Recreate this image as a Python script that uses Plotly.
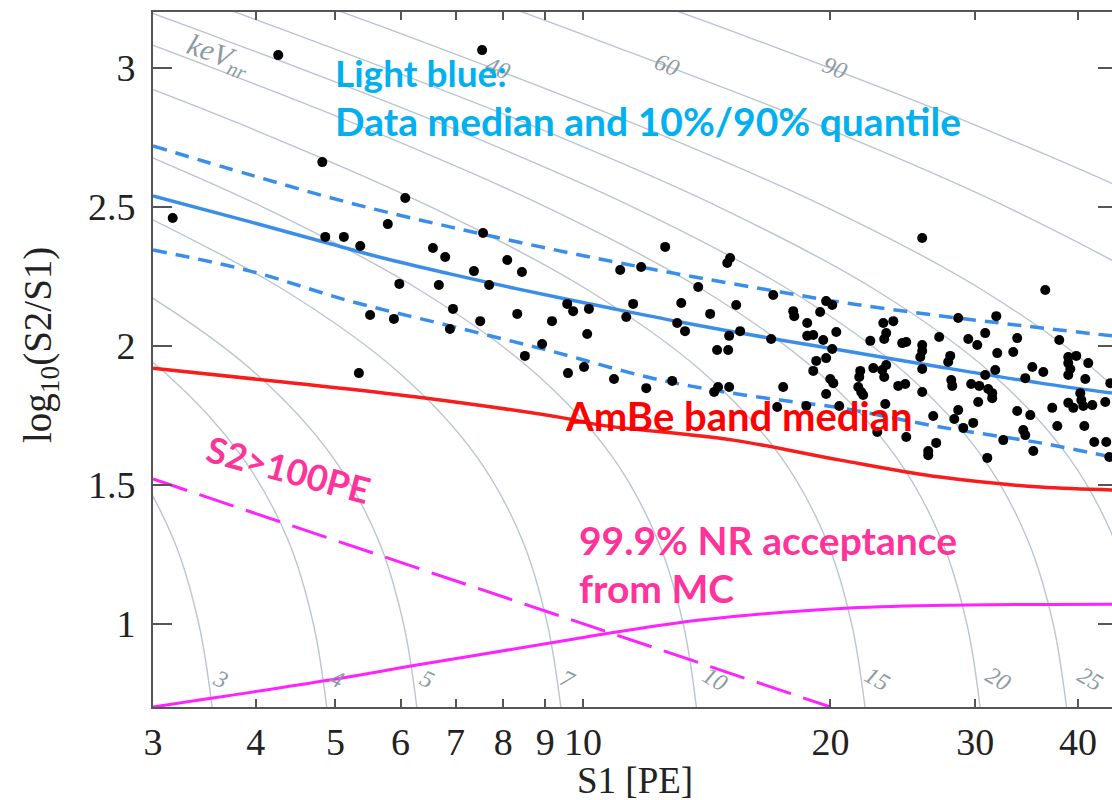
import math
import plotly.graph_objects as go

# ---- event scatter: S1 [PE] and log10(S2/S1) ----
event_s1 = [4.26, 7.54, 4.82, 6.08, 3.17, 5.79, 4.86, 5.12, 5.36, 7.56,
            6.57, 6.80, 8.09, 8.43, 7.37, 7.69, 5.98, 6.68, 9.57, 9.73,
            10.17, 6.95, 8.32, 7.50, 9.17, 5.51, 5.89, 6.89, 10.12, 8.92,
            8.50, 5.34, 12.59, 11.10, 11.77, 14.98, 15.10, 13.81, 17.04, 25.86,
            36.50, 11.51, 13.17, 15.36, 14.28, 11.29, 13.02, 13.31, 15.53, 15.06,
            16.94, 18.02, 18.07, 18.74, 19.43, 19.76, 20.10, 18.74, 19.06, 19.60,
            20.33, 23.19, 23.85, 23.38, 23.25, 22.36, 28.60, 31.82, 27.12, 29.42,
            30.85, 33.74, 37.96, 9.59, 10.03, 10.91, 11.94, 14.56, 15.02, 12.84,
            14.44, 14.60, 15.06, 17.23, 17.52, 20.10, 19.76, 19.22, 19.06, 19.99,
            20.16, 19.76, 20.50, 18.69, 24.45, 24.73, 25.86, 25.86, 25.72, 25.86,
            23.38, 23.12, 23.25, 22.55, 21.74, 21.68, 24.18, 24.66, 21.62, 21.80,
            21.92, 25.86, 23.32, 22.80, 24.73, 26.67, 26.89, 26.30, 26.30, 27.97,
            27.81, 28.05, 28.13, 28.60, 28.29, 29.01, 29.83, 30.25, 29.66, 30.34,
            30.85, 31.73, 31.91, 33.37, 30.17, 31.11, 31.46, 31.46, 33.74, 35.00,
            34.32, 34.51, 35.30, 32.45, 31.03, 34.51, 35.20, 36.30, 38.93, 38.93,
            39.15, 38.93, 39.81, 41.17, 40.83, 40.26, 40.38, 38.93, 39.48, 40.60,
            41.64, 43.18, 37.22, 37.75, 40.72, 41.87, 43.30, 43.67, 43.79]
event_logratio = [3.045, 3.063, 2.660, 2.531, 2.459, 2.437, 2.391, 2.391, 2.358, 2.405,
                  2.351, 2.319, 2.308, 2.265, 2.268, 2.218, 2.222, 2.218, 2.150, 2.124,
                  2.132, 2.132, 2.114, 2.088, 2.088, 2.110, 2.096, 2.060, 2.042, 2.006,
                  1.963, 1.901, 2.355, 2.272, 2.283, 2.297, 2.315, 2.211, 2.182, 2.387,
                  2.200, 2.150, 2.153, 2.146, 2.114, 2.103, 2.081, 2.052, 2.052, 2.035,
                  2.024, 2.124, 2.106, 2.081, 2.121, 2.160, 2.146, 2.035, 2.038, 2.020,
                  2.049, 2.081, 2.088, 2.045, 2.024, 2.017, 2.099, 2.106, 2.031, 2.024,
                  2.045, 2.027, 2.020, 1.901, 1.923, 1.880, 1.847, 1.984, 1.984, 1.873,
                  1.833, 1.851, 1.851, 1.779, 1.851, 1.988, 1.955, 1.945, 1.909, 1.880,
                  1.865, 1.826, 1.783, 1.783, 2.009, 2.013, 2.002, 1.981, 1.959, 1.916,
                  1.930, 1.912, 1.887, 1.919, 1.909, 1.887, 1.855, 1.862, 1.851, 1.833,
                  1.822, 1.833, 1.790, 1.689, 1.671, 1.747, 1.650, 1.621, 1.606, 1.963,
                  1.941, 1.876, 1.855, 1.768, 1.736, 1.704, 1.722, 1.797, 1.862, 1.855,
                  1.894, 1.912, 1.973, 1.977, 2.002, 1.844, 1.829, 1.811, 1.765, 1.750,
                  1.696, 1.678, 1.621, 1.660, 1.596, 1.883, 1.923, 1.905, 1.959, 1.937,
                  1.916, 1.894, 1.963, 1.937, 1.880, 1.829, 1.804, 1.794, 1.776, 1.783,
                  1.786, 1.797, 1.776, 1.711, 1.711, 1.653, 1.653, 1.599, 1.865]

# ---- data median and 10% / 90% quantiles ----
median_s1 = [3.00, 3.94, 4.89, 5.71, 6.89, 8.32, 10.79, 13.13, 17.38, 20.56, 27.2, 36.0, 44.0]
median_val = [2.538, 2.445, 2.369, 2.315, 2.258, 2.204, 2.135, 2.085, 2.020, 1.984, 1.923, 1.865, 1.829]

q90_s1 = [3.00, 3.94, 5.21, 6.89, 9.12, 11.10, 13.89, 17.38, 20.2, 26.7, 32.2, 37.0, 44.0]
q90_val = [2.718, 2.614, 2.513, 2.427, 2.348, 2.297, 2.243, 2.193, 2.160, 2.110, 2.081, 2.060, 2.035]

q10_s1 = [3.00, 3.94, 5.21, 6.89, 9.12, 11.97, 14.40, 17.38, 20.56, 27.2, 36.0, 44.0]
q10_val = [2.344, 2.268, 2.160, 2.071, 1.981, 1.887, 1.840, 1.804, 1.776, 1.707, 1.650, 1.599]

# ---- AmBe band median ----
ambe_s1 = [3.00, 4.32, 6.28, 9.46, 10.5, 15.23, 20.56, 27.2, 36.0, 44.0]
ambe_val = [1.919, 1.869, 1.815, 1.740, 1.714, 1.660, 1.588, 1.527, 1.491, 1.481]

# ---- S2 > 100 PE threshold ----
s2cut_s1 = [3.0, 20.0]
s2cut_val = [1.52, 0.70]

# ---- 99.9% NR acceptance from MC ----
nracc_s1 = [3.00, 4.92, 6.28, 9.12, 10.79, 13.89, 21.1, 29.3, 44.0]
nracc_val = [0.700, 0.797, 0.851, 0.930, 0.966, 1.013, 1.056, 1.067, 1.070]

# ---- constant-energy contours (keVnr) ----
contour_y = [0.7, 1.0, 1.3, 1.6, 1.9, 2.2, 2.5, 2.8, 3.1, 3.25]
contours = {
    3:  [3.54, 3.41, 3.18, 2.80, 2.26],
    4:  [4.88, 4.70, 4.38, 3.85, 3.11, 2.24],
    5:  [6.28, 6.05, 5.64, 4.96, 4.00, 2.89, 1.86],
    7:  [9.40, 9.05, 8.44, 7.43, 5.99, 4.33, 2.78],
    10: [13.74, 13.24, 12.33, 10.86, 8.76, 6.33, 4.07, 2.38],
    15: [22.03, 21.22, 19.78, 17.41, 14.05, 10.14, 6.52, 3.81, 2.08],
    20: [30.41, 29.30, 27.30, 24.03, 19.39, 14.00, 9.00, 5.26, 2.88],
    25: [38.73, 37.31, 34.76, 30.60, 24.70, 17.83, 11.47, 6.70, 3.66, 2.66],
    30: [49.3, 47.5, 44.3, 38.96, 31.4, 22.7, 14.6, 8.53, 4.66, 3.39],
    40: [None, None, 59.7, 52.6, 42.4, 30.6, 19.7, 11.5, 6.29, 4.57],
    60: [None, None, None, None, 70.4, 50.8, 32.7, 19.1, 10.4, 7.59],
    90: [None, None, None, None, None, 78.7, 50.6, 29.6, 16.2, 11.76],
}

# contour labels: text, S1, log10(S2/S1), rotation
contour_labels = [
    ("3", 3.62, 0.80, 25), ("4", 5.02, 0.80, 25), ("5", 6.46, 0.80, 25),
    ("7", 9.57, 0.80, 25), ("10", 14.48, 0.80, 30), ("15", 22.8, 0.80, 30),
    ("20", 32.0, 0.80, 30), ("25", 41.4, 0.80, 30),
    ("40", 7.88, 3.00, 22), ("60", 12.66, 3.01, 22), ("90", 20.27, 3.00, 22),
    ("keV<sub>nr</sub>", 3.60, 3.04, 20),
]

x_ticks = [3, 4, 5, 6, 7, 8, 9, 10, 20, 30, 40]
y_ticks = [1, 1.5, 2, 2.5, 3]

CONTOUR_COLOR = "#b9c6cf"
BLUE = "#3a8eea"
RED = "#f81c1c"
MAGENTA = "#ff22ff"

fig = go.Figure()

for energy, s1_vals in contours.items():
    xs, ys = [], []
    for s, yv in zip(s1_vals, contour_y):
        if s is not None:
            xs.append(s)
            ys.append(yv)
    fig.add_trace(go.Scatter(x=xs, y=ys, mode="lines", line_shape="spline",
                             line=dict(color=CONTOUR_COLOR, width=1.4),
                             hoverinfo="skip", showlegend=False))

fig.add_trace(go.Scatter(x=s2cut_s1, y=s2cut_val, mode="lines",
                         line=dict(color=MAGENTA, width=3, dash="36px,13px"),
                         showlegend=False))
fig.add_trace(go.Scatter(x=nracc_s1, y=nracc_val, mode="lines", line_shape="spline",
                         line=dict(color=MAGENTA, width=3), showlegend=False))
# the AmBe median sits on the right-hand y axis (same range) so its ticks are drawn
fig.add_trace(go.Scatter(x=ambe_s1, y=ambe_val, mode="lines", line_shape="spline",
                         yaxis="y2", line=dict(color=RED, width=3.5), showlegend=False))
fig.add_trace(go.Scatter(x=q90_s1, y=q90_val, mode="lines", line_shape="spline",
                         line=dict(color=BLUE, width=3.5, dash="14px,9px"), showlegend=False))
fig.add_trace(go.Scatter(x=q10_s1, y=q10_val, mode="lines", line_shape="spline",
                         line=dict(color=BLUE, width=3.5, dash="14px,9px"), showlegend=False))
fig.add_trace(go.Scatter(x=median_s1, y=median_val, mode="lines", line_shape="spline",
                         line=dict(color=BLUE, width=3.5), showlegend=False))
fig.add_trace(go.Scatter(x=event_s1, y=event_logratio, mode="markers",
                         marker=dict(color="black", size=10, line=dict(width=0)),
                         cliponaxis=True, showlegend=False))

annotations = []
for text, s1, yv, ang in contour_labels:
    annotations.append(dict(x=math.log10(s1), y=yv, xref="x", yref="y", text=text,
                            showarrow=False, textangle=ang,
                            font=dict(family="Liberation Serif", size=30 if "keV" in text else 24,
                                      color="#8c9aa4", style="italic"),
                            xanchor="center", yanchor="middle"))

# plot-area helpers (paper coordinates)
L, R, T, B = 153, 1112, 12, 707
def px(xp):
    return (xp - L) / (R - L)
def py(yp):
    return (B - yp) / (B - T)

sans = "Lato"
annotations += [
    dict(x=px(333), y=py(72), text="<b>Light blue:</b>", font=dict(family=sans, size=37, color="#00b0f0")),
    dict(x=px(333), y=py(121), text="<b>Data median and 10%/90% quantile</b>",
         font=dict(family=sans, size=39, color="#00b0f0")),
    dict(x=px(563), y=py(416), text="<b>AmBe band median</b>", font=dict(family=sans, size=40, color="#ff0000")),
    dict(x=px(577), y=py(540), text="<b>99.9% NR acceptance</b>", font=dict(family=sans, size=39, color="#ff3399")),
    dict(x=px(577), y=py(588), text="<b>from MC</b>", font=dict(family=sans, size=39, color="#ff3399")),
]
for a in annotations[-5:]:
    a.update(xref="paper", yref="paper", xanchor="left", yanchor="middle", showarrow=False)

annotations.append(dict(x=px(288), y=py(469), xref="paper", yref="paper", text="<b>S2>100PE</b>",
                        textangle=15, showarrow=False, xanchor="center", yanchor="middle",
                        font=dict(family=sans, size=36, color="#ff3399")))
annotations.append(dict(x=px(40), y=py(345), xref="paper", yref="paper",
                        text="log<sub>10</sub>(S2/S1)", textangle=-90, showarrow=False,
                        xanchor="center", yanchor="middle",
                        font=dict(family="Liberation Serif", size=39, color="#222")))
annotations.append(dict(x=px(635), y=py(780), xref="paper", yref="paper",
                        text="S1 [PE]", showarrow=False, xanchor="center", yanchor="middle",
                        font=dict(family="Liberation Serif", size=37, color="#222")))

axis_font = dict(family="Liberation Serif", size=38, color="#222")
fig.update_layout(
    width=1112, height=800,
    margin=dict(l=L, r=1112 - R, t=T, b=800 - B),
    paper_bgcolor="white", plot_bgcolor="white",
    showlegend=False,
    annotations=annotations,
    xaxis=dict(type="log", range=[math.log10(3), math.log10(44.0)],
               tickvals=x_ticks, ticktext=[str(v) for v in x_ticks],
               ticks="inside", ticklen=8, tickwidth=2, tickcolor="#555",
               showline=True, linecolor="#555", linewidth=2, mirror="ticks",
               showgrid=False, zeroline=False, tickfont=axis_font,
               ticklabelstandoff=0),
    yaxis=dict(range=[0.70, 3.20], tickvals=y_ticks,
               ticktext=["1", "1.5", "2", "2.5", "3"],
               ticks="inside", ticklen=19, tickwidth=2, tickcolor="#555",
               showline=True, linecolor="#555", linewidth=2,
               showgrid=False, zeroline=False, tickfont=axis_font,
               ticklabelstandoff=8),
    yaxis2=dict(range=[0.70, 3.20], overlaying="y", side="right", anchor="x",
                tickvals=y_ticks, showticklabels=False, ticks="inside", ticklen=14,
                tickwidth=2, tickcolor="#555", showline=False, showgrid=False,
                zeroline=False),
)

fig.write_html("out.html")
